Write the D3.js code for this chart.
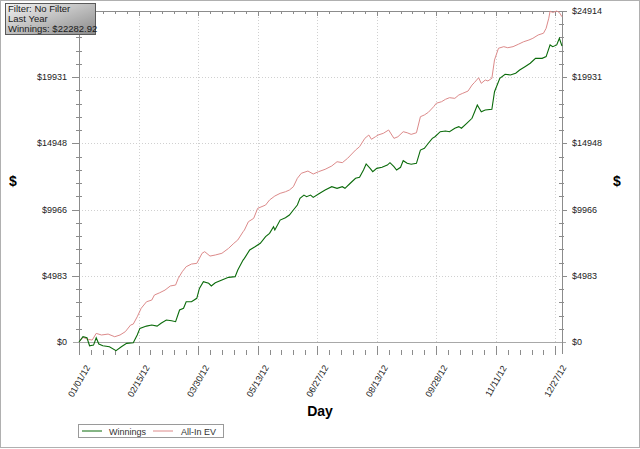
<!DOCTYPE html>
<html>
<head>
<meta charset="utf-8">
<script src="https://cdn.jsdelivr.net/npm/d3@7"></script>
<style>
  body { margin: 0; background: #fff; }
  text { font-family: "Liberation Sans", Arial, sans-serif; }
</style>
</head>
<body>
<div id="chart"></div>
<script>
// day of year (0 = 01/01/12) and running total in dollars
var winDays = [0, 3, 6, 8, 11, 13, 15, 18, 23, 28, 32, 36, 41, 44, 46, 51, 55, 59, 62, 66,
    70, 73, 76, 79, 81, 85, 89, 91, 94, 98, 100, 103, 108, 113, 118, 120, 124, 125, 129, 133,
    137, 141, 144, 147, 148, 152, 156, 159, 162, 165, 167, 170, 172, 175, 177, 181, 186, 191, 195, 199,
    201, 205, 209, 212, 215, 217, 220, 222, 225, 229, 233, 235, 238, 240, 243, 245, 248, 251, 255, 258,
    261, 264, 267, 269, 273, 277, 280, 284, 287, 289, 293, 297, 299, 301, 304, 307, 312, 314, 318, 322,
    326, 330, 333, 337, 341, 345, 350, 353, 356, 358, 361, 363, 365];
var winValues = [0, 400, 320, -280, -230, 320, -150, -280, -350, -650, -350, -100, -50, 530, 1030, 1200, 1280, 1200, 1410, 1660,
    1600, 1530, 2410, 2540, 3030, 3030, 3290, 4040, 4540, 4420, 4220, 4460, 4670, 4870, 4920, 5420, 6170, 6300, 6925, 7170,
    7430, 7930, 8180, 8680, 8430, 9180, 9360, 9560, 9940, 10310, 10820, 11060, 10940, 11060, 10890, 11140, 11440, 11690, 11570, 11690,
    11570, 11950, 12320, 12400, 12950, 13400, 13070, 12820, 13070, 13150, 13320, 13500, 13200, 12950, 13150, 13650, 13450, 13380, 13450, 14450,
    14580, 14960, 15330, 15450, 15830, 15880, 15830, 16090, 16210, 16090, 16460, 16840, 17330, 17840, 17330, 17460, 17520, 18840, 19850, 20150,
    20100, 20230, 20470, 20720, 20980, 21350, 21350, 21480, 22360, 22230, 22360, 22860, 22282.92];

var evDays = [0, 3, 7, 10, 13, 17, 22, 27, 31, 35, 39, 41, 44, 47, 51, 55, 57, 61, 65, 69,
    73, 75, 78, 81, 85, 89, 93, 95, 99, 103, 108, 113, 117, 120, 124, 125, 128, 132, 135, 141,
    144, 148, 152, 156, 159, 162, 165, 168, 173, 177, 181, 186, 191, 195, 199, 203, 209, 212, 216, 219,
    221, 224, 226, 230, 234, 238, 241, 245, 248, 251, 255, 258, 261, 264, 268, 270, 274, 277, 280, 284,
    287, 290, 294, 297, 299, 302, 304, 307, 309, 312, 314, 317, 321, 324, 328, 332, 336, 340, 343, 347,
    351, 353, 355, 356, 358, 361, 363, 365];
var evValues = [0, 350, 200, 150, 650, 530, 600, 400, 530, 780, 1280, 1350, 1900, 2540, 3030, 3160, 3540, 3710, 3910, 4220,
    4290, 4790, 5290, 5670, 5870, 5920, 6680, 6800, 6470, 6550, 6680, 7050, 7430, 7680, 8300, 8430, 9055, 9310, 10060, 10310,
    10690, 10990, 11190, 11310, 11440, 11690, 12320, 12700, 12870, 12645, 12820, 13000, 13250, 13570, 13500, 13830, 14450, 14700, 15330, 15580,
    15260, 15450, 15580, 15710, 15960, 15330, 15450, 15830, 15750, 15630, 15750, 16960, 17090, 17290, 17710, 17970, 18090, 18270, 18390, 18340,
    18590, 18720, 18890, 19340, 19550, 19890, 19470, 19720, 19650, 19850, 21230, 22110, 22230, 22150, 22230, 22410, 22600, 22730, 22860, 23110,
    23240, 23610, 24370, 24900, 24800, 24914, 24800, 24480];

var xTickDays = [0, 45, 90, 135, 180, 225, 270, 315, 360];
var xLabels = ["01/01/12", "02/15/12", "03/30/12", "05/13/12", "06/27/12", "08/13/12", "09/28/12", "11/11/12", "12/27/12"];
var yTicks = [0, 4983, 9966, 14948, 19931, 24914];
var yLabels = ["$0", "$4983", "$9966", "$14948", "$19931", "$24914"];
var infoLines = ["Filter: No Filter", "Last Year", "Winnings: $22282.92"];

const WIDTH = 640;
const HEIGHT = 449;
var plotLeft = 79, plotRight = 562, plotTop = 11, plotBottom = 354;

var x = d3.scaleLinear().domain([0, 365]).range([plotLeft, plotRight]);
var y = d3.scaleLinear().domain([-900, 24914]).range([plotBottom, plotTop]);

var svg = d3.select("#chart").append("svg")
    .attr("width", WIDTH)
    .attr("height", HEIGHT);

svg.append("rect")
    .attr("x", 0.5).attr("y", 0.5)
    .attr("width", WIDTH - 1).attr("height", HEIGHT - 2)
    .attr("fill", "#fff").attr("stroke", "#b0b0b0");

// minor tick positions, 4 between each pair of majors
var xMinor = [], yMinor = [];
for (var i = 0; i < xTickDays.length - 1; i++)
    for (var k = 1; k < 5; k++)
        xMinor.push(xTickDays[i] + (xTickDays[i + 1] - xTickDays[i]) * k / 5);
for (var i = 0; i < yTicks.length - 1; i++)
    for (var k = 1; k < 5; k++)
        yMinor.push(yTicks[i] + (yTicks[i + 1] - yTicks[i]) * k / 5);

var grid = svg.append("g");
grid.selectAll(".vg").data(xTickDays.slice(1)).enter().append("line")
    .attr("x1", d => Math.round(x(d)) + 0.5).attr("x2", d => Math.round(x(d)) + 0.5)
    .attr("y1", plotTop).attr("y2", y(0))
    .attr("stroke", "#d0d0d0").attr("stroke-dasharray", "1,2");
grid.selectAll(".hg").data(yTicks.slice(1, -1)).enter().append("line")
    .attr("x1", plotLeft).attr("x2", plotRight)
    .attr("y1", d => Math.round(y(d)) + 0.5).attr("y2", d => Math.round(y(d)) + 0.5)
    .attr("stroke", "#d0d0d0").attr("stroke-dasharray", "1,2");
grid.append("line")
    .attr("x1", plotLeft - 6).attr("x2", plotRight + 4)
    .attr("y1", Math.round(y(0)) + 0.5).attr("y2", Math.round(y(0)) + 0.5)
    .attr("stroke", "#a8a8a8");

var axes = svg.append("g").attr("stroke", "#8c8c8c").attr("shape-rendering", "crispEdges");
axes.append("line").attr("x1", plotLeft).attr("x2", plotLeft).attr("y1", plotTop).attr("y2", plotBottom);
axes.append("line").attr("x1", plotRight).attr("x2", plotRight).attr("y1", plotTop).attr("y2", plotBottom);
axes.append("line").attr("x1", plotLeft).attr("x2", plotRight).attr("y1", plotTop).attr("y2", plotTop);

// y ticks, both sides
axes.selectAll(".ylm").data(yTicks.slice(1)).enter().append("line")
    .attr("x1", plotLeft - 7).attr("x2", plotLeft)
    .attr("y1", d => Math.round(y(d))).attr("y2", d => Math.round(y(d)));
axes.selectAll(".yrm").data(yTicks.slice(1)).enter().append("line")
    .attr("x1", plotRight).attr("x2", plotRight + 5)
    .attr("y1", d => Math.round(y(d))).attr("y2", d => Math.round(y(d)));
axes.selectAll(".yln").data(yMinor).enter().append("line")
    .attr("x1", plotLeft - 3).attr("x2", plotLeft + 3)
    .attr("y1", d => Math.round(y(d))).attr("y2", d => Math.round(y(d)));
axes.selectAll(".yrn").data(yMinor).enter().append("line")
    .attr("x1", plotRight - 3).attr("x2", plotRight + 2)
    .attr("y1", d => Math.round(y(d))).attr("y2", d => Math.round(y(d)));

// x ticks, bottom and top
axes.selectAll(".xbm").data(xTickDays).enter().append("line")
    .attr("x1", d => Math.round(x(d))).attr("x2", d => Math.round(x(d)))
    .attr("y1", plotBottom - 8).attr("y2", plotBottom + 1);
axes.selectAll(".xbn").data(xMinor).enter().append("line")
    .attr("x1", d => Math.round(x(d))).attr("x2", d => Math.round(x(d)))
    .attr("y1", plotBottom - 4).attr("y2", plotBottom + 1);
axes.selectAll(".xtm").data(xTickDays).enter().append("line")
    .attr("x1", d => Math.round(x(d))).attr("x2", d => Math.round(x(d)))
    .attr("y1", plotTop).attr("y2", plotTop + 5);
axes.selectAll(".xtn").data(xMinor).enter().append("line")
    .attr("x1", d => Math.round(x(d))).attr("x2", d => Math.round(x(d)))
    .attr("y1", plotTop).attr("y2", plotTop + 3);

// series
var winLine = d3.line().x((d, i) => x(winDays[i])).y(d => y(d));
var evLine = d3.line().x((d, i) => x(evDays[i])).y(d => y(d));
svg.append("path").datum(evValues)
    .attr("fill", "none").attr("stroke", "#dc8a8a").attr("stroke-width", 1)
    .attr("d", evLine);
svg.append("path").datum(winValues)
    .attr("fill", "none").attr("stroke", "#0b6b0b").attr("stroke-width", 1.1)
    .attr("d", winLine);

// tick labels (the top-left one sits under the info box, so it is left out)
svg.selectAll(".yl").data(yTicks.slice(0, -1)).enter().append("text")
    .attr("x", plotLeft - 12).attr("y", d => y(d) + 3)
    .attr("text-anchor", "end").attr("font-size", "9px").attr("fill", "#222")
    .text((d, i) => yLabels[i]);
svg.selectAll(".yr").data(yTicks).enter().append("text")
    .attr("x", plotRight + 10).attr("y", d => y(d) + 3)
    .attr("font-size", "9px").attr("fill", "#222")
    .text((d, i) => yLabels[i]);
svg.selectAll(".xl").data(xTickDays).enter().append("text")
    .attr("transform", d => "translate(" + x(d) + ",381) rotate(-60)")
    .attr("text-anchor", "middle").attr("dy", "0.35em")
    .attr("font-size", "9px").attr("fill", "#222")
    .text((d, i) => xLabels[i]);

svg.append("text").attr("x", 320).attr("y", 416)
    .attr("text-anchor", "middle").attr("font-size", "14px").attr("font-weight", "bold")
    .text("Day");
svg.append("text").attr("x", 13).attr("y", 186)
    .attr("text-anchor", "middle").attr("font-size", "14px").attr("font-weight", "bold")
    .text("$");
svg.append("text").attr("x", 617).attr("y", 186)
    .attr("text-anchor", "middle").attr("font-size", "14px").attr("font-weight", "bold")
    .text("$");

// legend
var legend = svg.append("g");
legend.append("rect").attr("x", 78.5).attr("y", 424.5).attr("width", 145).attr("height", 13)
    .attr("fill", "#fff").attr("stroke", "#9a9a9a");
legend.append("line").attr("x1", 82).attr("x2", 102).attr("y1", 431).attr("y2", 431)
    .attr("stroke", "#0b6b0b");
legend.append("text").attr("x", 109).attr("y", 434.5).attr("font-size", "9px").attr("fill", "#333")
    .text("Winnings");
legend.append("line").attr("x1", 153).attr("x2", 173).attr("y1", 431).attr("y2", 431)
    .attr("stroke", "#dc8a8a");
legend.append("text").attr("x", 181).attr("y", 434.5).attr("font-size", "9px").attr("fill", "#333")
    .text("All-In EV");

// info box
var defs = svg.append("defs");
var grad = defs.append("linearGradient").attr("id", "infoGrad")
    .attr("x1", "0%").attr("y1", "0%").attr("x2", "100%").attr("y2", "100%");
grad.append("stop").attr("offset", "0%").attr("stop-color", "#f4f4f4");
grad.append("stop").attr("offset", "100%").attr("stop-color", "#8a8a8a");
svg.append("rect").attr("x", 5.5).attr("y", 3.5).attr("width", 90).attr("height", 31)
    .attr("fill", "url(#infoGrad)").attr("stroke", "#5a5a5a");
svg.selectAll(".info").data(infoLines).enter().append("text")
    .attr("x", 8).attr("y", (d, i) => 12 + i * 10)
    .attr("font-size", "9.5px").attr("fill", "#1a1a1a")
    .text(d => d);
</script>
</body>
</html>
